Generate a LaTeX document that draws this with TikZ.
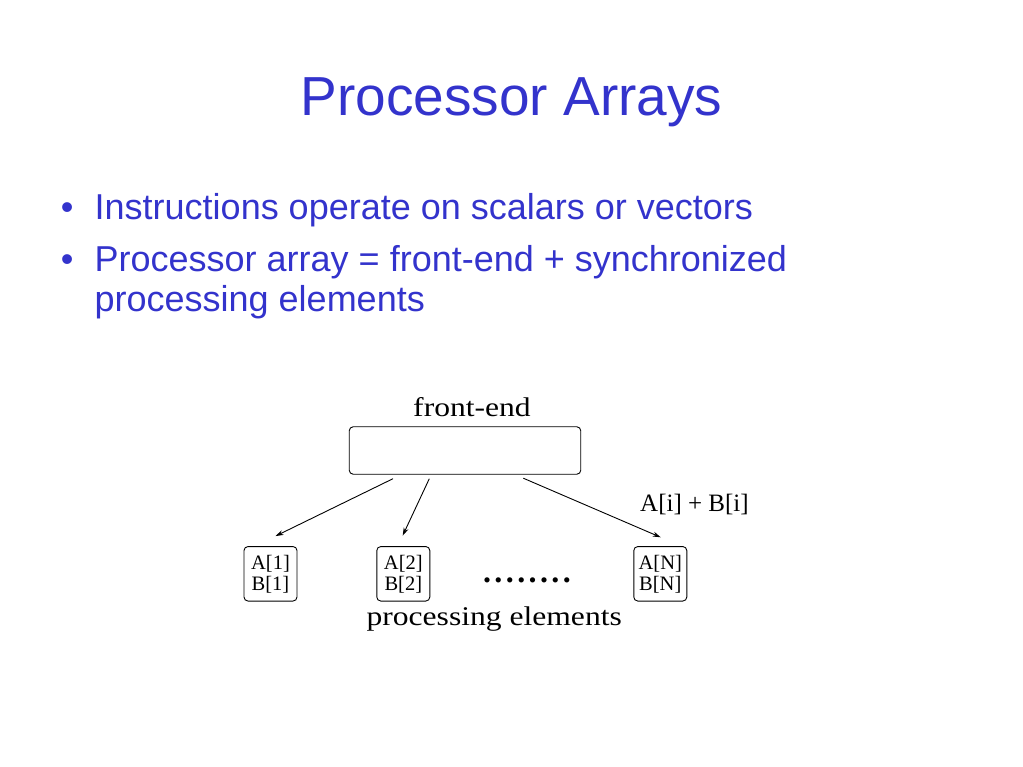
\documentclass[tikz,border=0pt]{standalone}
\usepackage{fontspec}
\setmainfont{Liberation Serif}
\newfontfamily\slidefont{Liberation Sans}
\newfontfamily\figfont[FakeStretch=1.17]{Liberation Serif}
\usetikzlibrary{arrows.meta}
\definecolor{slideblue}{RGB}{51,51,204}

\begin{document}
\begin{tikzpicture}[x=1pt, y=-1pt, every node/.style={inner sep=0pt},
    slide/.style={text=slideblue, font=\slidefont\fontsize{36}{40}\selectfont, anchor=base west},
    pebox/.style={rectangle, draw, rounded corners=4pt, line width=0.9pt, minimum width=53pt, minimum height=54.5pt, align=center, font=\fontsize{20.5}{21}\selectfont, execute at begin node=\rule{0pt}{20pt}},
    figlbl/.style={font=\figfont\fontsize{27}{30}\selectfont, anchor=base},
    flow/.style={-{Stealth[length=8pt,width=5pt]}, line width=0.9pt}]
    \useasboundingbox (0,0) rectangle (1023,767);

    % Title and bullets
    \node[text=slideblue, font=\slidefont\fontsize{55}{60}\selectfont, anchor=base] (title) at (511.5,116) {Processor Arrays};
    \node[slide, anchor=base] (dot1) at (67.3,219.3) {•};
    \node[slide] (item1) at (94.5,219.3) {Instructions operate on scalars or vectors};
    \node[slide, anchor=base] (dot2) at (67.3,272) {•};
    \node[slide] (item2) at (94.5,272) {Processor array = front-end + synchronized};
    \node[slide] (item2b) at (94.5,312) {processing elements};

    % Front-end
    \node[rectangle, draw, rounded corners=4pt, line width=0.9pt, minimum width=231.5pt, minimum height=47.5pt] (fe) at (465,450.5) {};
    \node[figlbl] (felbl) at (472,416.7) {front-end};

    % Processing elements
    \node[pebox] (pe1) at (270.5,573.8) {A[1]\\B[1]};
    \node[pebox] (pe2) at (403.3,573.8) {A[2]\\B[2]};
    \node[pebox] (peN) at (660.3,573.8) {A[N]\\B[N]};
    \node[font=\bfseries\fontsize{32}{34}\selectfont] (pedots) at (527,580) {.\kern3.4pt.\kern3.4pt.\kern3.4pt.\kern3.4pt.\kern3.4pt.\kern3.4pt.\kern3.4pt.};
    \node[figlbl] (pelbl) at (494.2,625) {processing elements};

    \draw[flow] ([xshift=-72pt,yshift=-4pt]fe.south) -- ([xshift=5pt,yshift=10pt]pe1.north);
    \draw[flow] ([xshift=-35.7pt,yshift=-4pt]fe.south) -- ([xshift=-0.6pt,yshift=10.5pt]pe2.north);
    \draw[flow] ([xshift=58.3pt,yshift=-3.5pt]fe.south) -- ([xshift=0.4pt,yshift=8.8pt]peN.north);
    \node[font=\fontsize{25}{28}\selectfont, anchor=base west] (sumlbl) at (640,511.7) {A[i] + B[i]};
\end{tikzpicture}
\end{document}
